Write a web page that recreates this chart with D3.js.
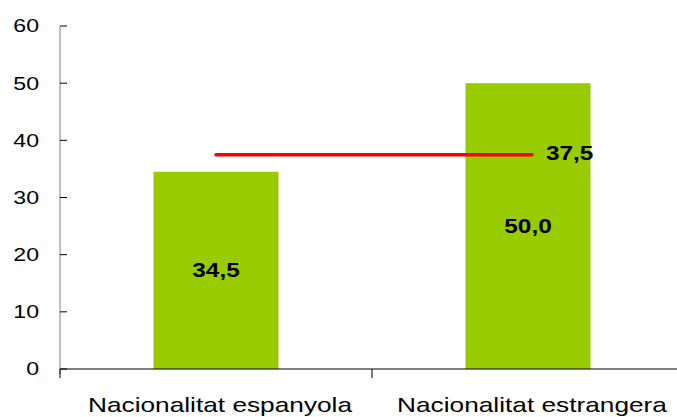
<!DOCTYPE html>
<html>
<head>
<meta charset="utf-8">
<script src="https://cdn.jsdelivr.net/npm/d3@7"></script>
<style>
  body { margin: 0; background: #fff; }
  text { font-family: "Liberation Sans", Arial, sans-serif; }
</style>
</head>
<body>
<div id="chart"></div>
<script>
const width = 677, height = 417;

// chart data
const categories = ["Nacionalitat espanyola", "Nacionalitat estrangera"];
const values = [34.5, 50.0];
const average = 37.5;
const yTicks = [0, 10, 20, 30, 40, 50, 60];

const fmt = v => v.toFixed(1).replace(".", ",");
const stretch = 1.25; // the original text is drawn wider than normal

const svg = d3.select("#chart").append("svg")
    .attr("width", width)
    .attr("height", height);

const x = d3.scaleBand()
    .domain(categories)
    .range([60, 684])
    .paddingInner(0)
    .paddingOuter(0);

const y = d3.scaleLinear()
    .domain([0, 60])
    .range([369, 26]);

const barW = 125;
const cx = c => x(c) + x.bandwidth() / 2;

// wide text helper
function label(px, py, str, size, anchor, bold) {
    return svg.append("text")
        .attr("transform", `translate(${px},${py}) scale(${stretch},1)`)
        .attr("dy", "0.35em")
        .attr("text-anchor", anchor)
        .attr("font-size", size)
        .attr("font-weight", bold ? "bold" : "normal")
        .attr("fill", "#000")
        .text(str);
}

// bars
svg.selectAll("rect.bar")
    .data(values)
    .enter().append("rect")
    .attr("class", "bar")
    .attr("x", (d, i) => cx(categories[i]) - barW / 2)
    .attr("y", d => y(d))
    .attr("width", barW)
    .attr("height", d => y(0) - y(d))
    .attr("fill", "#99cc00");

// y axis
svg.append("line")
    .attr("x1", 60).attr("x2", 60)
    .attr("y1", y(60)).attr("y2", y(0) + 5)
    .attr("stroke", "#808080");

svg.selectAll("line.ytick")
    .data(yTicks)
    .enter().append("line")
    .attr("class", "ytick")
    .attr("x1", 60).attr("x2", 67)
    .attr("y1", d => y(d)).attr("y2", d => y(d))
    .attr("stroke", "#000");

yTicks.forEach(t => label(39, y(t), t, 18.5, "end", false));

// x axis
svg.append("line")
    .attr("x1", 60).attr("x2", width)
    .attr("y1", y(0)).attr("y2", y(0))
    .attr("stroke", "#000");

svg.selectAll("line.xtick")
    .data([60, x(categories[1])])
    .enter().append("line")
    .attr("class", "xtick")
    .attr("x1", d => d).attr("x2", d => d)
    .attr("y1", y(0)).attr("y2", y(0) + 9)
    .attr("stroke", "#000");

categories.forEach(c => {
    label(cx(c) + 4, 412, c, 21, "middle", false).attr("dy", null);
});

// average line
svg.append("line")
    .attr("x1", cx(categories[0]))
    .attr("x2", cx(categories[1]) + 4)
    .attr("y1", y(average)).attr("y2", y(average))
    .attr("stroke", "#ff0000")
    .attr("stroke-width", 3.5)
    .attr("stroke-linecap", "round");

label(cx(categories[1]) + 18, y(average) - 1.5, fmt(average), 19.5, "start", true);

// bar labels
values.forEach((v, i) => {
    label(cx(categories[i]), (y(v) + y(0)) / 2, fmt(v), 19.5, "middle", true);
});
</script>
</body>
</html>
